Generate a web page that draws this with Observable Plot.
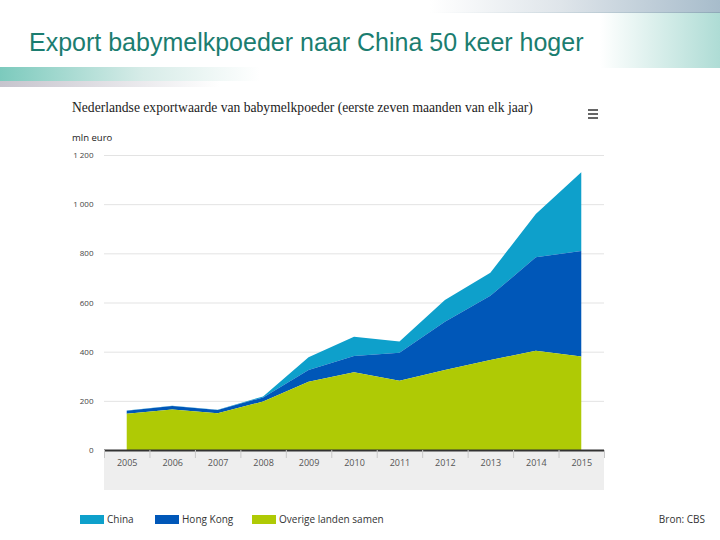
<!DOCTYPE html>
<html>
<head>
<meta charset="utf-8">
<script src="https://cdn.jsdelivr.net/npm/d3@7"></script>
<script src="https://cdn.jsdelivr.net/npm/@observablehq/plot@0.6"></script>
<style>
  html, body { margin: 0; padding: 0; background: #fff; }
  #page { position: relative; width: 720px; height: 540px; overflow: hidden; background: #fff; }
  .abs { position: absolute; }
  #title { left: 29px; top: 28px; font-family: "Liberation Sans", Arial, sans-serif; font-size: 25px; color: #1b7d70; white-space: nowrap; }
  #subtitle { left: 72px; top: 100px; font-family: "Liberation Serif", serif; font-size: 13.6px; color: #222; white-space: nowrap; }
  #unit { left: 72px; top: 131px; font-family: "Open Sans", sans-serif; font-size: 9.5px; color: #222; white-space: nowrap; }
  .leg { font-family: "Open Sans", sans-serif; font-size: 10px; color: #333; white-space: nowrap; }
  .sw { height: 9px; width: 24px; }
  #plot { left: 60px; top: 140px; }
</style>
</head>
<body>
<div id="page">
  <div class="abs" style="left:430px;top:0;width:290px;height:12px;background:linear-gradient(to right,#ffffff,#dfe5ea 45%,#a7bccb);"></div>
  <div class="abs" style="left:430px;top:12px;width:290px;height:1px;background:linear-gradient(to right,#ffffff,#8fa9b8);"></div>
  <div class="abs" style="left:600px;top:13px;width:120px;height:55px;background:linear-gradient(to right,#ffffff,#dff1ee 40%,#aedcd5);"></div>
  <div class="abs" style="left:0;top:67px;width:260px;height:14px;background:linear-gradient(to right,#7ccabd,#d7ece8 55%,#ffffff);"></div>
  <div class="abs" style="left:0;top:81px;width:220px;height:6px;background:linear-gradient(to right,#c6c4cd,#ffffff);"></div>
  <div id="title" class="abs">Export babymelkpoeder naar China 50 keer hoger</div>
  <div id="subtitle" class="abs">Nederlandse exportwaarde van babymelkpoeder (eerste zeven maanden van elk jaar)</div>
  <div class="abs" style="left:588px;top:109px;width:10px;height:2px;background:#666;"></div>
  <div class="abs" style="left:588px;top:113px;width:10px;height:2px;background:#666;"></div>
  <div class="abs" style="left:588px;top:117px;width:10px;height:2px;background:#666;"></div>
  <div id="unit" class="abs">mln euro</div>
  <div id="band" class="abs" style="background:#eeeeee;"></div>
  <div id="plot" class="abs"></div>
  <div id="legend"></div>
  <div class="abs leg" style="right:15px;top:512px;">Bron: CBS</div>
</div>
<script>
const years = [2005, 2006, 2007, 2008, 2009, 2010, 2011, 2012, 2013, 2014, 2015];
const seriesNames = ["China", "Hong Kong", "Overige landen samen"];
const seriesColors = ["#0ea0cb", "#0057b8", "#afca05"];
const china   = [1, 1, 1, 4, 52, 79, 45, 88, 94, 176, 320];
const hongKong = [13, 14, 13, 17, 47, 66, 114, 197, 261, 380, 430];
const overige = [147, 165, 150, 197, 278, 316, 282, 325, 366, 404, 380];
const yTicks = [0, 200, 400, 600, 800, 1000, 1200];

const valuesBySeries = {"China": china, "Hong Kong": hongKong, "Overige landen samen": overige};
const data = [];
for (const s of seriesNames) years.forEach((yr, i) => data.push({year: yr, series: s, value: valuesBySeries[s][i]}));
const bounds = [years[0] - 0.5, ...years.map(y => y + 0.5)];

const nl = d3.formatLocale({decimal: ",", thousands: "\u00a0", grouping: [3], currency: ["€", ""]});
const fmt = nl.format(",");

const plot = Plot.plot({
  width: 560,
  height: 360,
  marginLeft: 44,
  marginRight: 16,
  marginTop: 15,
  marginBottom: 50,
  style: {background: "transparent", fontFamily: "'Open Sans', sans-serif", overflow: "visible"},
  x: {type: "linear", domain: [bounds[0], bounds[bounds.length - 1]], axis: null},
  y: {domain: [0, 1200], axis: null},
  color: {domain: seriesNames, range: seriesColors},
  marks: [
    Plot.ruleY(yTicks.slice(1), {stroke: "#e3e3e3", strokeWidth: 1}),
    Plot.areaY(data, {x: "year", y: "value", fill: "series", order: ["Overige landen samen", "Hong Kong", "China"], curve: "linear"}),
    Plot.ruleY([0], {stroke: "#333", strokeWidth: 2}),
    Plot.axisX({ticks: bounds, tickSize: 8, tickFormat: () => "", stroke: "#c8c8c8", label: null}),
    Plot.axisX({ticks: years, tickSize: 0, tickPadding: 9, tickFormat: d => String(d), fontSize: 9, fill: "#555", label: null}),
    Plot.axisY({ticks: yTicks, tickSize: 0, tickPadding: 11, tickFormat: fmt, fontSize: 8, fill: "#444", label: null})
  ]
});
document.getElementById("plot").appendChild(plot);

// grey band below the x axis, aligned with the x scale
const xr = plot.scale("x").range;
const yr = plot.scale("y").range;
const band = document.getElementById("band");
band.style.left = (60 + Math.min(...xr)) + "px";
band.style.width = Math.abs(xr[1] - xr[0]) + "px";
band.style.top = (140 + Math.max(...yr)) + "px";
band.style.height = "40px";

// legend
const legend = document.getElementById("legend");
const legX = [80, 155, 252];
seriesNames.forEach((s, i) => {
  const sw = document.createElement("div");
  sw.className = "abs sw";
  sw.style.left = legX[i] + "px";
  sw.style.top = "515px";
  sw.style.background = seriesColors[i];
  legend.appendChild(sw);
  const t = document.createElement("div");
  t.className = "abs leg";
  t.style.left = (legX[i] + 27) + "px";
  t.style.top = "512px";
  t.textContent = s;
  legend.appendChild(t);
});
</script>
</body>
</html>
